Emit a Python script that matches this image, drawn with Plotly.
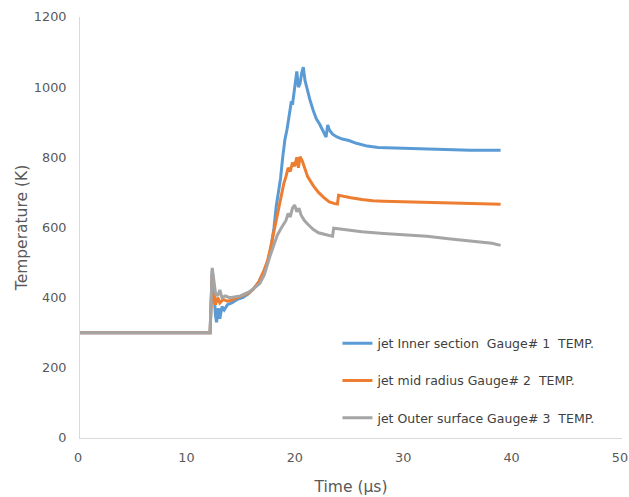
import plotly.graph_objects as go

# ---- data ----
t_inner = [0, 12.0, 12.2, 12.35, 12.5, 12.6, 12.75, 12.9, 13.1, 13.3, 13.6, 14.0, 14.5, 15.0, 15.5, 16.0,
           16.5, 17.0, 17.3, 17.6, 17.9, 18.1, 18.3, 18.5, 18.7, 18.9, 19.1, 19.3, 19.5, 19.6, 19.8, 20.0,
           20.15, 20.3, 20.45, 20.6, 20.75, 20.9, 21.2, 21.5, 21.8, 22.1, 22.4, 22.7, 22.85, 23.0, 23.3,
           23.7, 24.2, 24.8, 25.5, 26.5, 27.5, 28.5, 30, 32, 34, 36, 38, 38.8]
T_inner = [300, 300, 480, 400, 350, 330, 370, 340, 375, 365, 380, 385, 395, 400, 410, 425,
           445, 475, 500, 540, 600, 660, 700, 740, 800, 850, 880, 920, 960, 950, 1000, 1045,
           1000, 1010, 1040, 1057, 1020, 1000, 965, 935, 910, 895, 875, 858, 892, 878, 866,
           858, 852, 848, 840, 832, 828, 827, 826, 824, 822, 820, 820, 820]

t_mid = [0, 12.0, 12.2, 12.35, 12.5, 12.7, 12.9, 13.2, 13.6, 14.0, 14.5, 15.0, 15.5, 16.0, 16.5, 17.0,
         17.3, 17.6, 17.9, 18.1, 18.3, 18.6, 18.8, 19.0, 19.2, 19.4, 19.6, 19.8, 20.0, 20.15, 20.3, 20.5,
         20.7, 21.0, 21.5, 22.0, 22.5, 23.0, 23.5, 23.75, 23.85, 24.3, 25, 26, 27, 28, 30, 32, 34, 36, 38, 38.8]
T_mid = [300, 300, 470, 410, 380, 400, 385, 395, 390, 393, 400, 405, 412, 425, 445, 480,
         505, 545, 590, 620, 655, 700, 725, 745, 770, 760, 785, 775, 800, 770, 802, 790,
         770, 745, 720, 700, 685, 673, 668, 667, 692, 690, 685, 680, 676, 675, 673, 671, 669, 668, 667, 666]

t_outer = [0, 12.0, 12.2, 12.35, 12.5, 12.7, 12.9, 13.1, 13.4, 13.8, 14.2, 14.8, 15.5, 16.0, 16.6, 17.0,
           17.5, 17.9, 18.2, 18.5, 18.8, 19.0, 19.2, 19.4, 19.6, 19.8, 20.0, 20.2, 20.4, 20.7, 21.0, 21.5,
           22.0, 22.5, 23.0, 23.3, 23.4, 24, 25, 26, 28, 30, 32, 34, 36, 38, 38.8]
T_outer = [300, 300, 485, 440, 413, 405, 422, 400, 405, 400, 402, 405, 415, 425, 441, 465,
           516, 555, 578, 595, 612, 620, 640, 630, 655, 664, 645, 655, 635, 620, 610, 595,
           585, 580, 577, 575, 598, 596, 592, 588, 583, 580, 575, 568, 562, 555, 549]

names = ["jet Inner section  Gauge# 1  TEMP.",
         "jet mid radius Gauge# 2  TEMP.",
         "jet Outer surface Gauge# 3  TEMP."]
colors = ["#5B9BD5", "#ED7D31", "#A5A5A5"]

x_ticks = [0, 10, 20, 30, 40, 50]
y_ticks = [0, 200, 400, 600, 800, 1000, 1200]

fig = go.Figure()
for i, (tx, ty) in enumerate([(t_inner, T_inner), (t_mid, T_mid), (t_outer, T_outer)]):
    fig.add_trace(go.Scatter(x=tx, y=ty, mode="lines", name=names[i], legendgroup=f"g{i}",
                             line=dict(color=colors[i], width=3)))

font_fam = "DejaVu Sans"
fig.update_layout(
    width=629, height=497,
    margin=dict(l=80, r=7, t=17, b=59, autoexpand=False),
    paper_bgcolor="white", plot_bgcolor="white",
    font=dict(family=font_fam, color="#595959", size=12.8),
    showlegend=True,
    legend=dict(x=0.475, y=0.26, xanchor="left", yanchor="top", bgcolor="rgba(0,0,0,0)",
                font=dict(size=12.5, color="#404040"), tracegroupgap=18, itemwidth=30),
    xaxis=dict(range=[0, 50], tickvals=x_ticks, showgrid=False, zeroline=False, automargin=False,
               showline=True, linecolor="#D9D9D9", linewidth=1, ticks="", ticklabelstandoff=8,
               ticklabeloverflow="allow", ticklabelshift=-2,
               title=dict(text="Time (µs)", font=dict(size=15.5, color="#595959"), standoff=16)),
    yaxis=dict(range=[0, 1200], tickvals=y_ticks, showgrid=False, zeroline=False, automargin=False,
               showline=True, linecolor="#D9D9D9", linewidth=1, ticks="", ticklabelstandoff=10,
               title=dict(text="Temperature (K)", font=dict(size=15.5, color="#595959"), standoff=2)),
)
fig.write_html("out.html", config={"displayModeBar": False},
               post_script="document.body.style.margin='0px';document.body.style.overflow='hidden';")
